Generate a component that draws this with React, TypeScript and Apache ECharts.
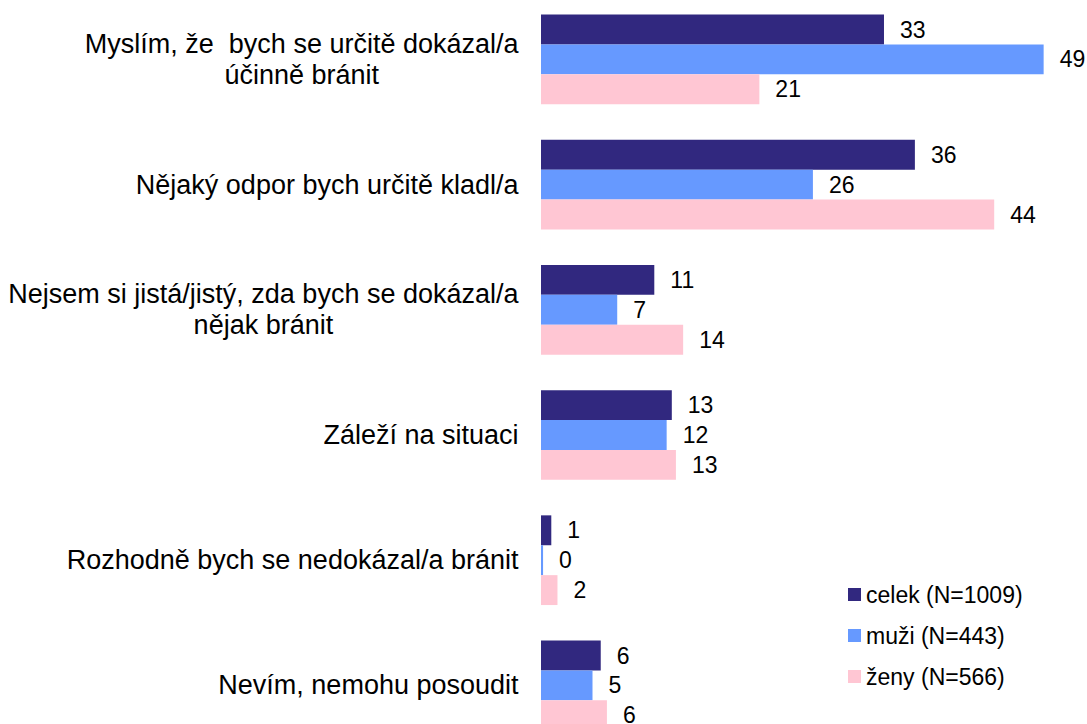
import React, { useEffect, useRef } from "react";
import * as echarts from "echarts";

const categories = [
  "Myslím, že  bych se určitě dokázal/a\núčinně bránit",
  "Nějaký odpor bych určitě kladl/a",
  "Nejsem si jistá/jistý, zda bych se dokázal/a\nnějak bránit",
  "Záleží na situaci",
  "Rozhodně bych se nedokázal/a bránit",
  "Nevím, nemohu posoudit",
];

const seriesNames = ["celek (N=1009)", "muži (N=443)", "ženy (N=566)"];
const celek = [33.3, 36.3, 11.0, 12.7, 1.0, 5.8];
const muzi = [48.8, 26.4, 7.4, 12.2, 0.2, 5.0];
const zeny = [21.2, 44.0, 13.8, 13.1, 1.6, 6.4];
const colors = ["#31287F", "#6699FF", "#FFC6D3"];

const FONT = "'Liberation Sans', Arial, Helvetica, sans-serif";

export default function App() {
  const ref = useRef<HTMLDivElement>(null);
  useEffect(() => {
    if (!ref.current) return;
    const chart = echarts.init(ref.current, undefined, { renderer: "svg" });
    const values = [celek, muzi, zeny];
    chart.setOption({
      animation: false,
      backgroundColor: "#ffffff",
      textStyle: { fontFamily: FONT },
      legend: {
        orient: "vertical",
        left: 843,
        top: 578,
        padding: 5,
        itemWidth: 13,
        itemHeight: 13,
        itemGap: 18,
        icon: "rect",
        data: seriesNames,
        textStyle: { fontSize: 23, color: "#000", fontFamily: FONT, lineHeight: 23 },
      },
      grid: {
        left: 541,
        width: 515,
        top: -3.2,
        height: 751.2,
        containLabel: false,
        outerBoundsMode: "none",
      },
      xAxis: {
        type: "value",
        min: 0,
        max: 50,
        show: false,
      },
      yAxis: {
        type: "category",
        inverse: true,
        data: categories,
        axisLine: { show: false },
        axisTick: { show: false },
        splitLine: { show: false },
        axisLabel: {
          margin: 22.5,
          color: "#000",
          formatter: (v: string) =>
            v
              .split("\n")
              .map((l) => `{c|${l}}`)
              .join("\n"),
          rich: {
            c: {
              align: "center",
              fontSize: 27,
              lineHeight: 31,
              fontFamily: FONT,
              color: "#000",
            },
          },
        },
      },
      series: seriesNames.map((name, i) => ({
        name,
        type: "bar",
        data: values[i],
        barWidth: 29.9,
        barGap: "0%",
        itemStyle: { color: colors[i] },
        label: {
          show: true,
          position: "right",
          distance: 16,
          fontSize: 23,
          color: "#000",
          fontFamily: FONT,
          formatter: (p: any) => String(Math.round(p.value)),
        },
      })),
    });
    return () => chart.dispose();
  }, []);
  return (
    <div
      ref={ref}
      style={{ position: "absolute", left: 0, top: 0, width: 1087, height: 724 }}
    />
  );
}
